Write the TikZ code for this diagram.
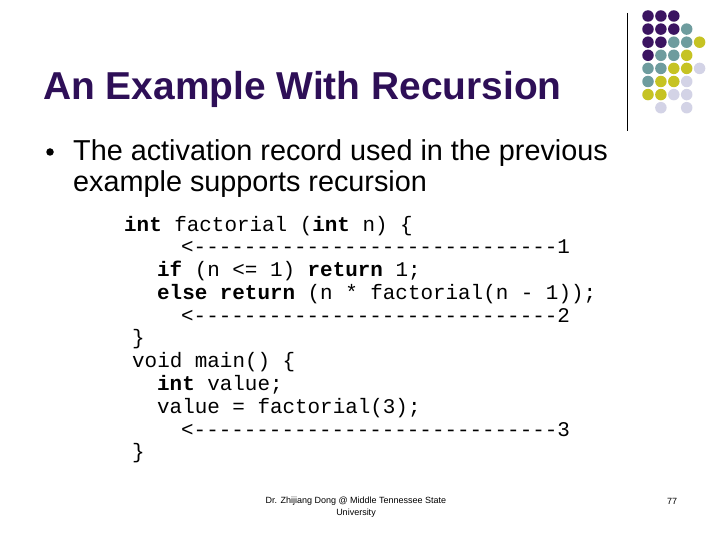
\documentclass[tikz,border=0pt]{standalone}
\usepackage{fontspec}
\setmainfont{Liberation Sans}
\newfontfamily\cmono{Liberation Mono}
\definecolor{dP}{HTML}{3B1461}
\definecolor{dT}{HTML}{6E9C9E}
\definecolor{dY}{HTML}{C6C323}
\definecolor{dL}{HTML}{D3D3E6}
\definecolor{ttl}{HTML}{2E0F57}
\begin{document}
\begin{tikzpicture}[x=1pt,y=-1pt,
  codeln/.style={anchor=base west,inner sep=0pt,font=\cmono\fontsize{20.9}{22}\selectfont},
  body/.style={anchor=base west,inner sep=0pt,font=\fontsize{28.8}{31}\selectfont},
  dot/.style={circle,inner sep=0pt,minimum size=11.5pt}]
\useasboundingbox (0,0) rectangle (720,540);
\fill[white] (0,0) rectangle (720,540);
\coordinate (lt) at (627,13); \coordinate (lb) at (627,131);
\draw[line width=0.8pt] (lt) -- (lb);
\foreach \r/\a/\b/\cc/\d/\e in {0/P/P/P/N/N,1/P/P/P/T/N,2/P/P/T/T/Y,3/P/T/T/Y/N,4/T/T/Y/Y/L,5/T/Y/Y/L/N,6/Y/Y/L/L/N,7/N/L/N/L/N}{
  \foreach \c/\k in {0/\a,1/\b,2/\cc,3/\d,4/\e}{
    \if N\k\else
      \node[dot,fill=d\k] (d\r\c) at (648+12.9*\c,16+13.1*\r) {};
    \fi
  }
}
\node[anchor=base west,inner sep=0pt,text=ttl,font=\bfseries\fontsize{38.9}{40}\selectfont] (title) at (43,100) {An Example With Recursion};
\node[circle,fill=black,inner sep=0pt,minimum size=7.5pt] (bul) at (50,152) {};
\node[body] (t1) at (73,161) {The activation record used in the previous};
\node[body] (t2) at (73,192) {example supports recursion};
\node[codeln] (c1) at (124,231) {\textbf{int} factorial (\textbf{int} n) \{};
\node[codeln] (c2) at (181,254) {<-----------------------------1};
\node[codeln] (c3) at (157,276) {\textbf{if} (n <= 1) \textbf{return} 1;};
\node[codeln] (c4) at (157,299) {\textbf{else return} (n * factorial(n - 1));};
\node[codeln] (c5) at (181,322) {<-----------------------------2};
\node[codeln] (c6) at (132,344) {\}};
\node[codeln] (c7) at (132,367) {void main() \{};
\node[codeln] (c8) at (157,390) {\textbf{int} value;};
\node[codeln] (c9) at (157,413) {value = factorial(3);};
\node[codeln] (c10) at (181,436) {<-----------------------------3};
\node[codeln] (c11) at (132,458) {\}};
\node[align=center,inner sep=0pt,font=\fontsize{9}{12}\selectfont] (foot) at (356,507) {Dr. Zhijiang Dong @ Middle Tennessee State\\University};
\node[anchor=base,inner sep=0pt,font=\fontsize{9}{12}\selectfont] (pg) at (672,504) {77};
\end{tikzpicture}
\end{document}
